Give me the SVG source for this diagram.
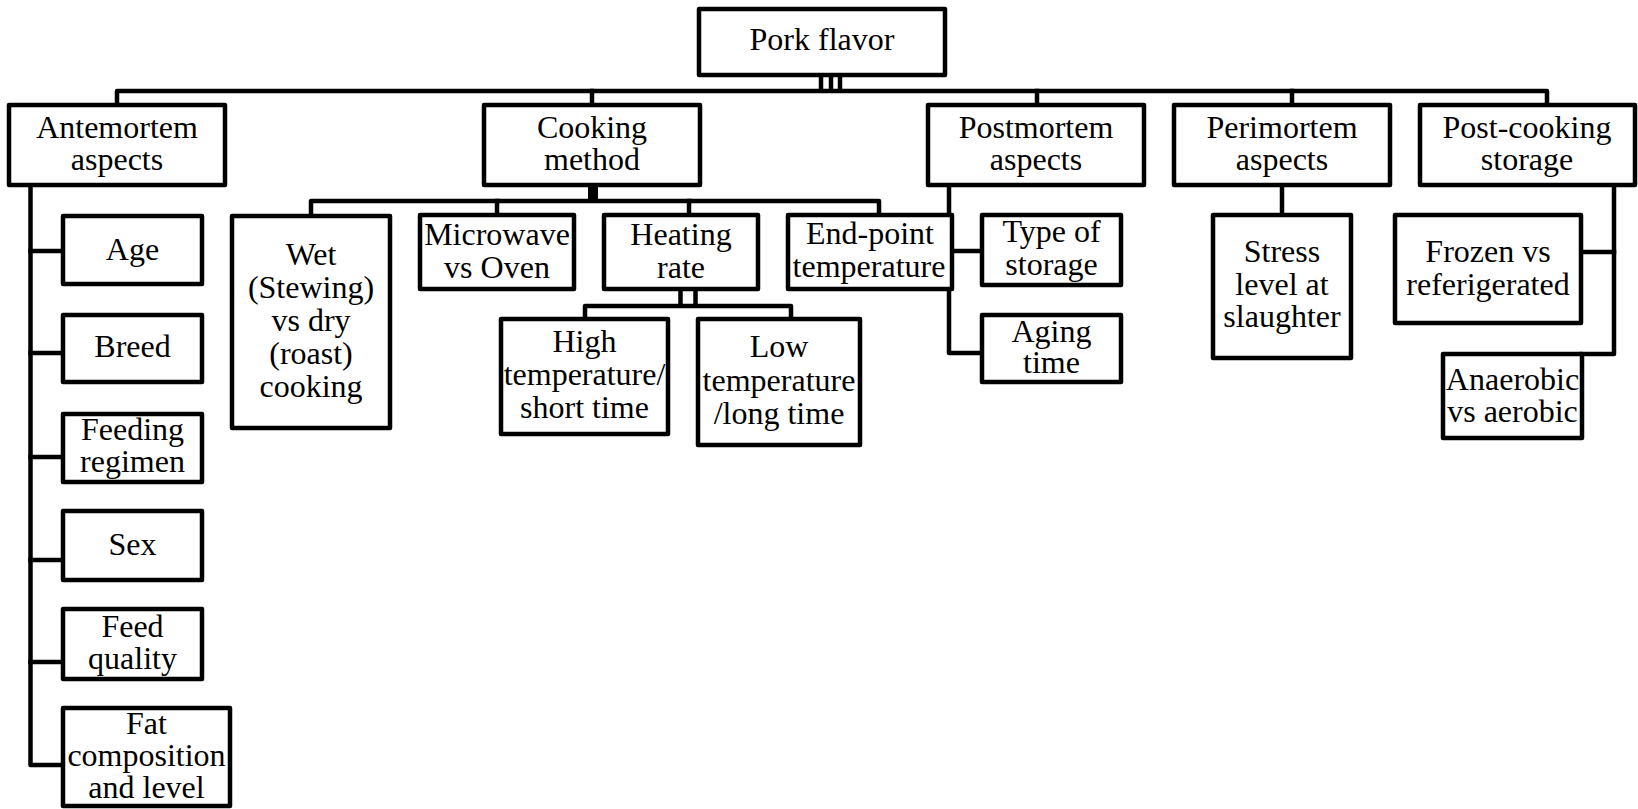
<svg xmlns="http://www.w3.org/2000/svg" width="1638" height="809" viewBox="0 0 1638 809">
<style>
.b{fill:#fff;stroke:#000;stroke-width:4.5;stroke-linejoin:round}
.c{fill:none;stroke:#000;stroke-width:4.5;stroke-linejoin:round;stroke-linecap:square}
</style>
<rect width="1638" height="809" fill="#fff"/>
<g id="connectors">
<line class="c" x1="821" y1="76" x2="821" y2="89"/>
<line class="c" x1="831" y1="76" x2="831" y2="89"/>
<line class="c" x1="840" y1="76" x2="840" y2="89"/>
<polyline class="c" points="117,104 117,91 1547,91 1547,104"/>
<line class="c" x1="592" y1="91" x2="592" y2="104"/>
<line class="c" x1="1037" y1="91" x2="1037" y2="104"/>
<line class="c" x1="1292" y1="91" x2="1292" y2="104"/>
<polyline class="c" points="30.5,186 30.5,765 62,765"/>
<line class="c" x1="30.5" y1="251" x2="62" y2="251"/>
<line class="c" x1="30.5" y1="353" x2="62" y2="353"/>
<line class="c" x1="30.5" y1="457" x2="62" y2="457"/>
<line class="c" x1="30.5" y1="560" x2="62" y2="560"/>
<line class="c" x1="30.5" y1="662" x2="62" y2="662"/>
<line x1="593" y1="186" x2="593" y2="200" stroke="#000" stroke-width="10"/>
<polyline class="c" points="311,214 311,201 879,201 879,214"/>
<line class="c" x1="497" y1="201" x2="497" y2="214"/>
<line class="c" x1="689" y1="201" x2="689" y2="214"/>
<line class="c" x1="680.5" y1="290" x2="680.5" y2="305"/>
<line class="c" x1="695.5" y1="290" x2="695.5" y2="305"/>
<polyline class="c" points="585,318 585,306 791,306 791,318"/>
<polyline class="c" points="949,186 949,353 981,353"/>
<line class="c" x1="949" y1="251" x2="981" y2="251"/>
<line class="c" x1="1282" y1="186" x2="1282" y2="214"/>
<polyline class="c" points="1614,186 1614,354 1582,354"/>
<line class="c" x1="1582" y1="252" x2="1614" y2="252"/>
</g>
<g font-family="Liberation Serif, Tinos, Times New Roman, serif" font-size="32" text-anchor="middle" fill="#000">
<g id="n-pork"><rect class="b" x="699" y="9" width="246" height="66"/><text x="822" y="50">Pork flavor</text></g>
<g id="n-antemortem"><rect class="b" x="9" y="105" width="216" height="80"/><text x="117" y="138">Antemortem</text><text x="117" y="170">aspects</text></g>
<g id="n-cooking"><rect class="b" x="484" y="105" width="216" height="80"/><text x="592" y="138">Cooking</text><text x="592" y="170">method</text></g>
<g id="n-postmortem"><rect class="b" x="928" y="105" width="216" height="80"/><text x="1036" y="138">Postmortem</text><text x="1036" y="170">aspects</text></g>
<g id="n-perimortem"><rect class="b" x="1174" y="105" width="216" height="80"/><text x="1282" y="138">Perimortem</text><text x="1282" y="170">aspects</text></g>
<g id="n-postcooking"><rect class="b" x="1420" y="105" width="215" height="80"/><text x="1527" y="138">Post-cooking</text><text x="1527" y="170">storage</text></g>
<g id="n-age"><rect class="b" x="63" y="216" width="139" height="68"/><text x="132.5" y="260">Age</text></g>
<g id="n-breed"><rect class="b" x="63" y="315" width="139" height="67"/><text x="132.5" y="357">Breed</text></g>
<g id="n-feeding"><rect class="b" x="63" y="414" width="139" height="68"/><text x="132.5" y="440">Feeding</text><text x="132.5" y="472">regimen</text></g>
<g id="n-sex"><rect class="b" x="63" y="511" width="139" height="69"/><text x="132.5" y="555">Sex</text></g>
<g id="n-feedquality"><rect class="b" x="63" y="609" width="139" height="70"/><text x="132.5" y="637">Feed</text><text x="132.5" y="669">quality</text></g>
<g id="n-fat"><rect class="b" x="63" y="708" width="167" height="98"/><text x="146.5" y="734">Fat</text><text x="146.5" y="766">composition</text><text x="146.5" y="798">and level</text></g>
<g id="n-wet"><rect class="b" x="232" y="216" width="158" height="212"/><text x="311" y="265">Wet</text><text x="311" y="298">(Stewing)</text><text x="311" y="331">vs dry</text><text x="311" y="364">(roast)</text><text x="311" y="397">cooking</text></g>
<g id="n-microwave"><rect class="b" x="420" y="215" width="154" height="74"/><text x="497" y="245">Microwave</text><text x="497" y="278">vs Oven</text></g>
<g id="n-heating"><rect class="b" x="604" y="215" width="154" height="74"/><text x="681" y="245">Heating</text><text x="681" y="278">rate</text></g>
<g id="n-endpoint"><rect class="b" x="788" y="215" width="164" height="74"/><text x="870" y="244">End-point</text><text x="869" y="277">temperature</text></g>
<g id="n-high"><rect class="b" x="501" y="319" width="167" height="115"/><text x="584.5" y="352">High</text><text x="584.5" y="385">temperature/</text><text x="584.5" y="418">short time</text></g>
<g id="n-low"><rect class="b" x="698" y="319" width="162" height="126"/><text x="779" y="357">Low</text><text x="779" y="391">temperature</text><text x="779" y="424">/long time</text></g>
<g id="n-typestorage"><rect class="b" x="982" y="215" width="139" height="70"/><text x="1051.5" y="242">Type of</text><text x="1051.5" y="275">storage</text></g>
<g id="n-aging"><rect class="b" x="982" y="315" width="139" height="67"/><text x="1051.5" y="342">Aging</text><text x="1051.5" y="373">time</text></g>
<g id="n-stress"><rect class="b" x="1213" y="215" width="138" height="143"/><text x="1282" y="262">Stress</text><text x="1282" y="295">level at</text><text x="1282" y="327">slaughter</text></g>
<g id="n-frozen"><rect class="b" x="1395" y="215" width="186" height="108"/><text x="1488" y="262">Frozen vs</text><text x="1488" y="295">referigerated</text></g>
<g id="n-anaerobic"><rect class="b" x="1443" y="354" width="139" height="84"/><text x="1512.5" y="390">Anaerobic</text><text x="1512.5" y="422">vs aerobic</text></g>
</g>
</svg>
